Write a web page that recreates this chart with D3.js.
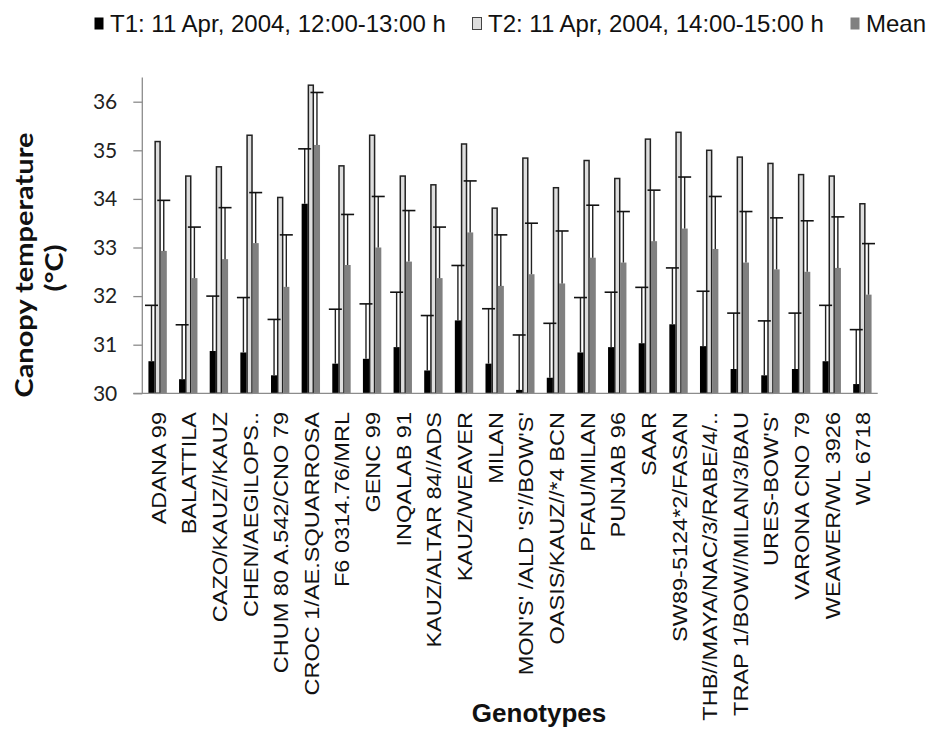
<!DOCTYPE html>
<html>
<head>
<meta charset="utf-8">
<script src="https://cdn.jsdelivr.net/npm/d3@7/dist/d3.min.js"></script>
<style>
  html, body { margin: 0; padding: 0; background: #fff; }
  svg { display: block; }
</style>
</head>
<body>
<svg id="chart" width="929" height="729"></svg>
<script>
// Genotypes on the x axis
const genotypes = [
  "ADANA 99", "BALATTILA", "CAZO/KAUZ//KAUZ", "CHEN/AEGILOPS..",
  "CHUM 80 A.542/CNO 79", "CROC 1/AE.SQUARROSA", "F6 0314.76/MRL", "GENC 99",
  "INQALAB 91", "KAUZ/ALTAR 84//ADS", "KAUZ/WEAVER", "MILAN",
  "MON'S' /ALD 'S'//BOW'S'", "OASIS/KAUZ//*4 BCN", "PFAU/MILAN", "PUNJAB 96",
  "SAAR", "SW89-5124*2/FASAN", "THB//MAYA/NAC/3/RABE/4/..", "TRAP 1/BOW//MILAN/3/BAU",
  "URES-BOW'S'", "VARONA CNO 79", "WEAWER/WL 3926", "WL 6718"
];

// Canopy temperature (°C) per measurement time
const t1Values = [30.66, 30.29, 30.87, 30.84, 30.37, 33.90, 30.61, 30.71, 30.95, 30.47, 31.50, 30.61,
                  30.07, 30.32, 30.84, 30.95, 31.03, 31.42, 30.97, 30.50, 30.37, 30.50, 30.66, 30.19];
const t2Values = [35.18, 34.47, 34.66, 35.31, 34.03, 36.34, 34.68, 35.31, 34.47, 34.29, 35.13, 33.81,
                  34.84, 34.23, 34.79, 34.42, 35.23, 35.37, 35.00, 34.86, 34.73, 34.50, 34.47, 33.90];
const meanValues = [32.93, 32.37, 32.76, 33.09, 32.19, 35.11, 32.64, 33.00, 32.71, 32.37, 33.31, 32.21,
                    32.45, 32.26, 32.79, 32.69, 33.13, 33.39, 32.97, 32.69, 32.55, 32.50, 32.58, 32.03];

// Upper error bar lengths (°C)
const t1Errors = [1.15, 1.12, 1.13, 1.13, 1.15, 1.13, 1.12, 1.13, 1.13, 1.13, 1.13, 1.13,
                  1.13, 1.12, 1.13, 1.13, 1.15, 1.16, 1.13, 1.15, 1.12, 1.15, 1.15, 1.12];
const meanErrors = [1.04, 1.05, 1.06, 1.04, 1.07, 1.08, 1.04, 1.05, 1.05, 1.05, 1.06, 1.05,
                    1.05, 1.08, 1.08, 1.05, 1.05, 1.06, 1.08, 1.05, 1.06, 1.05, 1.05, 1.05];

const seriesNames = ["T1: 11 Apr, 2004, 12:00-13:00 h", "T2: 11 Apr, 2004, 14:00-15:00 h", "Mean"];
const yTicks = [30, 31, 32, 33, 34, 35, 36];

const seriesStyle = {
  [seriesNames[0]]: { fill: "#000000", stroke: "none" },
  [seriesNames[1]]: { fill: "#dedede", stroke: "#222222" },
  [seriesNames[2]]: { fill: "#808080", stroke: "none" }
};

const rows = genotypes.map((g, i) => ({
  genotype: g,
  values: [
    { key: seriesNames[0], value: t1Values[i], err: t1Errors[i] },
    { key: seriesNames[1], value: t2Values[i], err: null },
    { key: seriesNames[2], value: meanValues[i], err: meanErrors[i] }
  ]
}));

const svg = d3.select("#chart");
const plot = { left: 142.3, right: 877.7, top: 77.4, bottom: 393.3 };

const y = d3.scaleLinear().domain([30, 36.5]).range([plot.bottom, plot.top]);
const x0 = d3.scaleBand().domain(genotypes).range([plot.left, plot.right])
  .paddingInner(0.4).paddingOuter(0.2);
const x1 = d3.scaleBand().domain(seriesNames).range([0, x0.bandwidth()]);

// Bars
const groups = svg.append("g").selectAll("g")
  .data(rows).join("g")
  .attr("transform", d => `translate(${x0(d.genotype)},0)`);

groups.selectAll("rect")
  .data(d => d.values).join("rect")
  .attr("x", d => x1(d.key) + (seriesStyle[d.key].stroke !== "none" ? 0.6 : 0))
  .attr("y", d => y(d.value))
  .attr("width", d => x1.bandwidth() - (seriesStyle[d.key].stroke !== "none" ? 1.2 : 0))
  .attr("height", d => y(30) - y(d.value))
  .attr("fill", d => seriesStyle[d.key].fill)
  .attr("stroke", d => seriesStyle[d.key].stroke)
  .attr("stroke-width", 1.5);

// Upper error bars
const errs = groups.selectAll("g.err")
  .data(d => d.values.filter(v => v.err !== null)).join("g")
  .attr("class", "err");
errs.append("line")
  .attr("x1", d => x1(d.key) + x1.bandwidth() / 2)
  .attr("x2", d => x1(d.key) + x1.bandwidth() / 2)
  .attr("y1", d => y(d.value))
  .attr("y2", d => y(d.value + d.err))
  .attr("stroke", "#222").attr("stroke-width", 1.4);
errs.append("line")
  .attr("x1", d => x1(d.key) + x1.bandwidth() / 2 - 6.5)
  .attr("x2", d => x1(d.key) + x1.bandwidth() / 2 + 6.5)
  .attr("y1", d => y(d.value + d.err))
  .attr("y2", d => y(d.value + d.err))
  .attr("stroke", "#111").attr("stroke-width", 1.6);

// Y axis
const yAxis = svg.append("g")
  .attr("transform", `translate(${plot.left},0)`)
  .call(d3.axisLeft(y).tickValues(yTicks).tickSize(9).tickPadding(16).tickFormat(d3.format("d")));
yAxis.select(".domain").attr("stroke", "#8c8c8c").attr("stroke-width", 1.3)
  .attr("d", `M0,${plot.top}V${plot.bottom}`);
yAxis.selectAll(".tick line").attr("stroke", "#8c8c8c").attr("stroke-width", 1.3);
yAxis.selectAll(".tick text")
  .attr("font-family", "Lato, 'Open Sans', sans-serif")
  .attr("font-size", 21).attr("fill", "#222");

// X axis baseline
svg.append("line")
  .attr("x1", plot.left - 9).attr("x2", plot.right)
  .attr("y1", plot.bottom).attr("y2", plot.bottom)
  .attr("stroke", "#8c8c8c").attr("stroke-width", 1.3);

// Category labels, rotated and drawn slightly tall
svg.append("g").selectAll("text")
  .data(genotypes).join("text")
  .attr("transform", d => `translate(${x0(d) + x0.bandwidth() / 2 + 8},412) rotate(-90) scale(1.12,1)`)
  .attr("text-anchor", "end")
  .attr("font-family", "'Liberation Sans', Arial, sans-serif")
  .attr("font-size", 21)
  .attr("fill", "#111")
  .text(d => d);

// Axis titles
svg.append("text")
  .attr("transform", "translate(33,265) rotate(-90) scale(1.16,1)")
  .attr("text-anchor", "middle")
  .attr("font-family", "Lato, 'Open Sans', sans-serif")
  .attr("font-weight", "bold").attr("font-size", 25).attr("fill", "#111")
  .text("Canopy  temperature");
svg.append("text")
  .attr("transform", "translate(63,268) rotate(-90) scale(1.16,1)")
  .attr("text-anchor", "middle")
  .attr("font-family", "Lato, 'Open Sans', sans-serif")
  .attr("font-weight", "bold").attr("font-size", 25).attr("fill", "#111")
  .text("(°C)");
svg.append("text")
  .attr("x", 539).attr("y", 722)
  .attr("text-anchor", "middle")
  .attr("font-family", "'Liberation Sans', Arial, sans-serif")
  .attr("font-weight", "bold").attr("font-size", 26).attr("fill", "#111")
  .text("Genotypes");

// Legend
const legendX = [94, 472, 850];
const legend = svg.append("g").selectAll("g")
  .data(seriesNames).join("g")
  .attr("transform", (d, i) => `translate(${legendX[i]},0)`);
legend.append("rect")
  .attr("x", 0.5).attr("y", 17.5).attr("width", 9).attr("height", 12)
  .attr("fill", d => seriesStyle[d].fill)
  .attr("stroke", d => seriesStyle[d].stroke === "none" ? "none" : "#444")
  .attr("stroke-width", 1);
legend.append("text")
  .attr("x", 16).attr("y", 31.5)
  .attr("font-family", "'Liberation Sans', Arial, sans-serif")
  .attr("font-size", 24).attr("fill", "#111")
  .text(d => d);
</script>
</body>
</html>
